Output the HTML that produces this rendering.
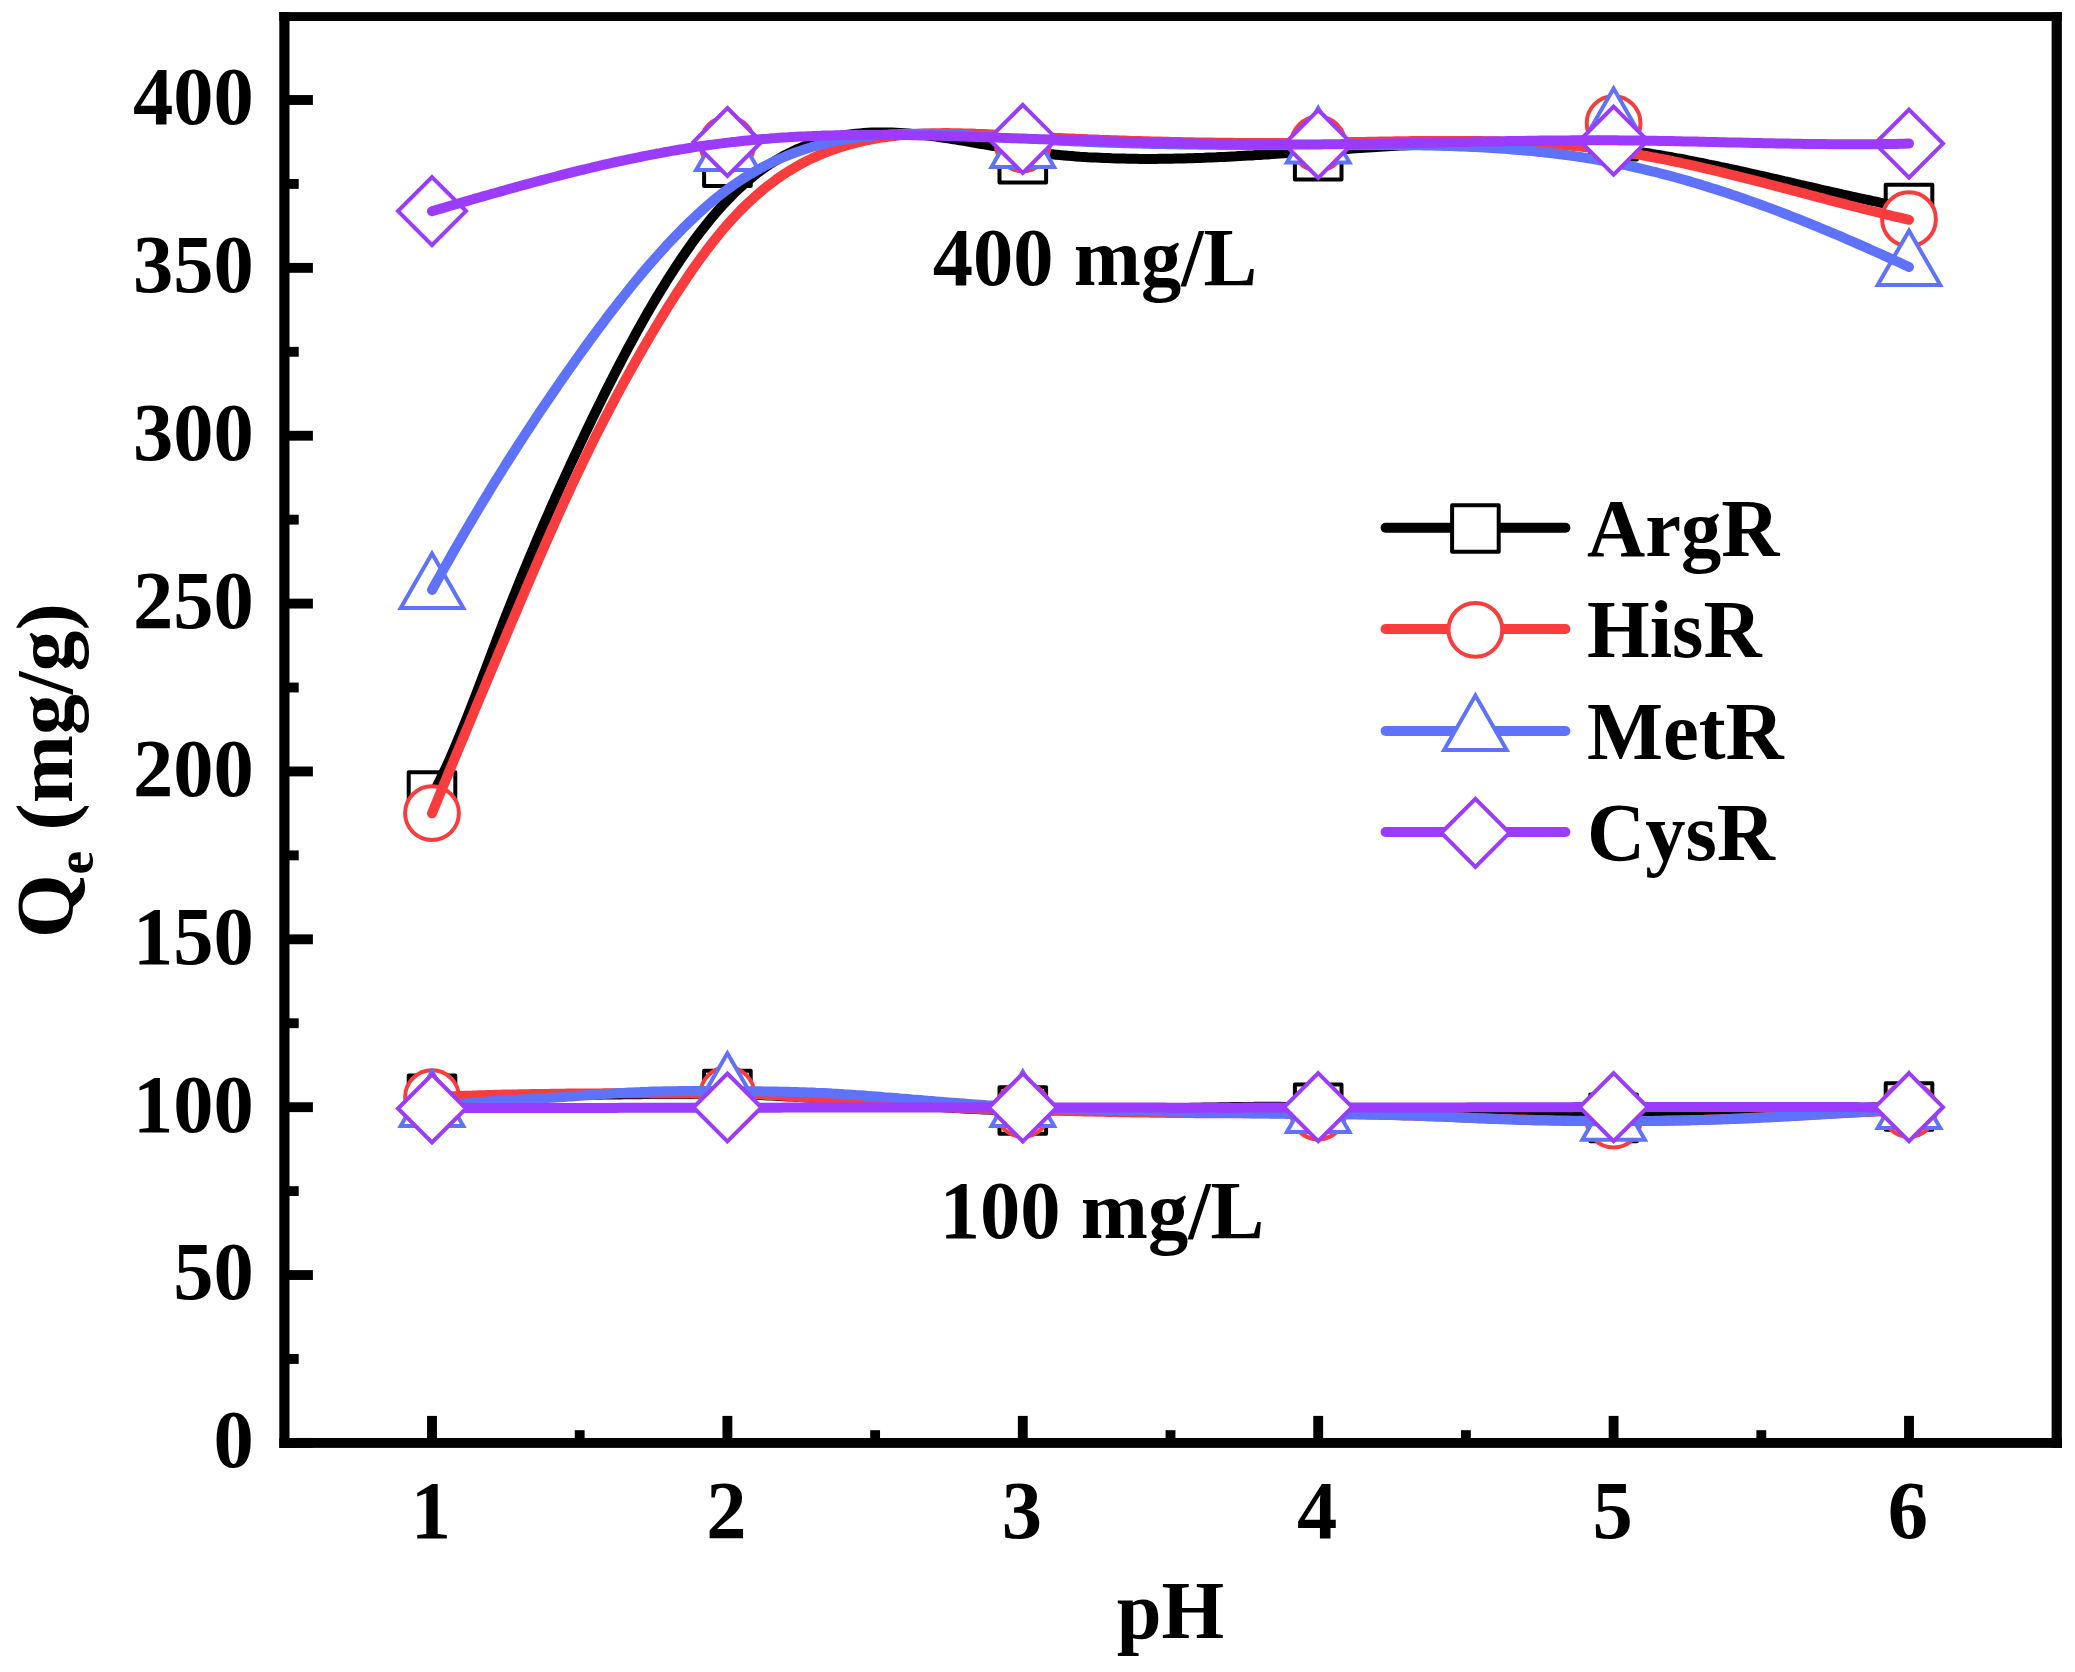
<!DOCTYPE html>
<html><head><meta charset="utf-8"><title>Qe vs pH</title>
<style>
html,body{margin:0;padding:0;background:#fff;}
svg{display:block;}
text{font-family:"Liberation Serif","Times New Roman",serif;font-weight:bold;fill:#000;}
</style></head><body>
<svg width="2075" height="1672" viewBox="0 0 2075 1672">
<rect x="0" y="0" width="2075" height="1672" fill="#fff"/>

<g id="g100">
<rect x="408.7" y="1075.5" width="46.6" height="46.6" fill="#fff" stroke="#000000" stroke-width="4.0" stroke-linejoin="round"/>
<rect x="704.1" y="1070.8" width="46.6" height="46.6" fill="#fff" stroke="#000000" stroke-width="4.0" stroke-linejoin="round"/>
<rect x="999.5" y="1087.2" width="46.6" height="46.6" fill="#fff" stroke="#000000" stroke-width="4.0" stroke-linejoin="round"/>
<rect x="1294.9" y="1084.5" width="46.6" height="46.6" fill="#fff" stroke="#000000" stroke-width="4.0" stroke-linejoin="round"/>
<rect x="1590.3" y="1094.6" width="46.6" height="46.6" fill="#fff" stroke="#000000" stroke-width="4.0" stroke-linejoin="round"/>
<rect x="1885.7" y="1083.2" width="46.6" height="46.6" fill="#fff" stroke="#000000" stroke-width="4.0" stroke-linejoin="round"/>
<path d="M432.0,1099.0 L436.0,1098.9 L440.0,1098.7 L444.0,1098.6 L448.0,1098.5 L452.0,1098.3 L456.0,1098.2 L460.0,1098.1 L464.0,1098.0 L468.0,1097.8 L472.0,1097.7 L476.0,1097.6 L480.0,1097.4 L484.0,1097.3 L488.0,1097.2 L492.0,1097.1 L496.0,1097.0 L500.0,1096.8 L504.0,1096.7 L508.0,1096.6 L512.0,1096.5 L516.0,1096.4 L520.0,1096.3 L524.0,1096.2 L528.0,1096.1 L532.0,1096.0 L536.0,1095.9 L540.0,1095.8 L544.0,1095.7 L548.0,1095.6 L552.0,1095.5 L556.0,1095.4 L560.0,1095.3 L564.0,1095.3 L568.0,1095.2 L572.0,1095.1 L576.0,1095.0 L580.0,1095.0 L584.0,1094.9 L588.0,1094.8 L592.0,1094.8 L596.0,1094.7 L600.0,1094.7 L604.0,1094.6 L608.0,1094.5 L612.0,1094.5 L616.0,1094.4 L620.0,1094.4 L624.0,1094.3 L628.0,1094.3 L632.0,1094.3 L636.0,1094.2 L640.0,1094.2 L644.0,1094.1 L648.0,1094.1 L652.0,1094.0 L656.0,1094.0 L660.0,1094.0 L664.0,1094.0 L668.0,1093.9 L672.0,1093.9 L676.0,1093.9 L680.0,1093.9 L684.0,1093.9 L688.0,1093.9 L692.0,1093.9 L696.0,1093.9 L700.0,1093.9 L704.0,1093.9 L708.0,1093.9 L712.0,1094.0 L716.0,1094.0 L720.0,1094.1 L724.0,1094.1 L728.0,1094.2 L732.0,1094.3 L736.0,1094.4 L740.0,1094.5 L744.0,1094.6 L748.0,1094.7 L752.0,1094.9 L756.0,1095.0 L760.0,1095.1 L764.0,1095.3 L768.0,1095.4 L772.0,1095.6 L776.0,1095.8 L780.0,1096.0 L784.0,1096.2 L788.0,1096.4 L792.0,1096.6 L796.0,1096.8 L800.0,1097.0 L804.0,1097.2 L808.0,1097.5 L812.0,1097.7 L816.0,1097.9 L820.0,1098.2 L824.0,1098.4 L828.0,1098.7 L832.0,1099.0 L836.0,1099.2 L840.0,1099.5 L844.0,1099.8 L848.0,1100.1 L852.0,1100.4 L856.0,1100.7 L860.0,1101.0 L864.0,1101.3 L868.0,1101.5 L872.0,1101.9 L876.0,1102.2 L880.0,1102.5 L884.0,1102.8 L888.0,1103.1 L892.0,1103.4 L896.0,1103.7 L900.0,1104.0 L904.0,1104.3 L908.0,1104.6 L912.0,1104.9 L916.0,1105.2 L920.0,1105.5 L924.0,1105.8 L928.0,1106.1 L932.0,1106.4 L936.0,1106.7 L940.0,1107.0 L944.0,1107.2 L948.0,1107.5 L952.0,1107.8 L956.0,1108.0 L960.0,1108.2 L964.0,1108.5 L968.0,1108.7 L972.0,1108.9 L976.0,1109.0 L980.0,1109.2 L984.0,1109.4 L988.0,1109.5 L992.0,1109.7 L996.0,1109.8 L1000.0,1109.9 L1004.0,1110.0 L1008.0,1110.1 L1012.0,1110.1 L1016.0,1110.2 L1020.0,1110.3 L1024.0,1110.3 L1028.0,1110.3 L1032.0,1110.4 L1036.0,1110.4 L1040.0,1110.4 L1044.0,1110.4 L1048.0,1110.4 L1052.0,1110.4 L1056.0,1110.3 L1060.0,1110.3 L1064.0,1110.3 L1068.0,1110.2 L1072.0,1110.2 L1076.0,1110.1 L1080.0,1110.1 L1084.0,1110.0 L1088.0,1109.9 L1092.0,1109.9 L1096.0,1109.8 L1100.0,1109.7 L1104.0,1109.7 L1108.0,1109.6 L1112.0,1109.5 L1116.0,1109.4 L1120.0,1109.3 L1124.0,1109.3 L1128.0,1109.2 L1132.0,1109.1 L1136.0,1109.0 L1140.0,1108.9 L1144.0,1108.8 L1148.0,1108.8 L1152.0,1108.7 L1156.0,1108.6 L1160.0,1108.5 L1164.0,1108.4 L1168.0,1108.3 L1172.0,1108.3 L1176.0,1108.2 L1180.0,1108.1 L1184.0,1108.0 L1188.0,1107.9 L1192.0,1107.8 L1196.0,1107.8 L1200.0,1107.7 L1204.0,1107.6 L1208.0,1107.5 L1212.0,1107.5 L1216.0,1107.4 L1220.0,1107.3 L1224.0,1107.3 L1228.0,1107.2 L1232.0,1107.1 L1236.0,1107.1 L1240.0,1107.0 L1244.0,1107.0 L1248.0,1106.9 L1252.0,1106.9 L1256.0,1106.8 L1260.0,1106.8 L1264.0,1106.8 L1268.0,1106.8 L1272.0,1106.8 L1276.0,1106.8 L1280.0,1106.8 L1284.0,1106.9 L1288.0,1106.9 L1292.0,1107.0 L1296.0,1107.0 L1300.0,1107.1 L1304.0,1107.2 L1308.0,1107.3 L1312.0,1107.4 L1316.0,1107.5 L1320.0,1107.6 L1324.0,1107.7 L1328.0,1107.8 L1332.0,1107.9 L1336.0,1108.0 L1340.0,1108.1 L1344.0,1108.2 L1348.0,1108.4 L1352.0,1108.5 L1356.0,1108.6 L1360.0,1108.8 L1364.0,1108.9 L1368.0,1109.0 L1372.0,1109.2 L1376.0,1109.3 L1380.0,1109.5 L1384.0,1109.6 L1388.0,1109.8 L1392.0,1109.9 L1396.0,1110.0 L1400.0,1110.2 L1404.0,1110.3 L1408.0,1110.5 L1412.0,1110.7 L1416.0,1110.8 L1420.0,1111.0 L1424.0,1111.1 L1428.0,1111.3 L1432.0,1111.4 L1436.0,1111.6 L1440.0,1111.7 L1444.0,1111.9 L1448.0,1112.0 L1452.0,1112.1 L1456.0,1112.3 L1460.0,1112.4 L1464.0,1112.6 L1468.0,1112.7 L1472.0,1112.9 L1476.0,1113.0 L1480.0,1113.1 L1484.0,1113.3 L1488.0,1113.4 L1492.0,1113.5 L1496.0,1113.7 L1500.0,1113.8 L1504.0,1113.9 L1508.0,1114.1 L1512.0,1114.2 L1516.0,1114.3 L1520.0,1114.4 L1524.0,1114.5 L1528.0,1114.6 L1532.0,1114.7 L1536.0,1114.9 L1540.0,1115.0 L1544.0,1115.0 L1548.0,1115.1 L1552.0,1115.2 L1556.0,1115.3 L1560.0,1115.4 L1564.0,1115.5 L1568.0,1115.6 L1572.0,1115.6 L1576.0,1115.7 L1580.0,1115.7 L1584.0,1115.8 L1588.0,1115.8 L1592.0,1115.9 L1596.0,1115.9 L1600.0,1115.9 L1604.0,1116.0 L1608.0,1116.0 L1612.0,1116.0 L1616.0,1116.0 L1620.0,1116.0 L1624.0,1116.0 L1628.0,1116.0 L1632.0,1116.0 L1636.0,1115.9 L1640.0,1115.9 L1644.0,1115.8 L1648.0,1115.8 L1652.0,1115.7 L1656.0,1115.7 L1660.0,1115.6 L1664.0,1115.5 L1668.0,1115.5 L1672.0,1115.4 L1676.0,1115.3 L1680.0,1115.2 L1684.0,1115.1 L1688.0,1115.0 L1692.0,1114.9 L1696.0,1114.7 L1700.0,1114.6 L1704.0,1114.5 L1708.0,1114.3 L1712.0,1114.2 L1716.0,1114.0 L1720.0,1113.9 L1724.0,1113.7 L1728.0,1113.5 L1732.0,1113.4 L1736.0,1113.2 L1740.0,1113.0 L1744.0,1112.9 L1748.0,1112.7 L1752.0,1112.5 L1756.0,1112.3 L1760.0,1112.1 L1764.0,1111.9 L1768.0,1111.7 L1772.0,1111.6 L1776.0,1111.4 L1780.0,1111.2 L1784.0,1111.0 L1788.0,1110.8 L1792.0,1110.6 L1796.0,1110.4 L1800.0,1110.3 L1804.0,1110.1 L1808.0,1109.9 L1812.0,1109.7 L1816.0,1109.6 L1820.0,1109.4 L1824.0,1109.3 L1828.0,1109.1 L1832.0,1109.0 L1836.0,1108.8 L1840.0,1108.7 L1844.0,1108.5 L1848.0,1108.4 L1852.0,1108.2 L1856.0,1108.1 L1860.0,1108.0 L1864.0,1107.9 L1868.0,1107.7 L1872.0,1107.6 L1876.0,1107.5 L1880.0,1107.4 L1884.0,1107.2 L1888.0,1107.1 L1892.0,1107.0 L1896.0,1106.9 L1900.0,1106.8 L1904.0,1106.6 L1908.0,1106.5 L1909.0,1106.5" fill="none" stroke="#000000" stroke-width="10.0" stroke-linecap="round" stroke-linejoin="round"/>
<circle cx="432.0" cy="1097.1" r="26.9" fill="#fff" stroke="#F93C3E" stroke-width="4.0"/>
<circle cx="727.4" cy="1094.1" r="26.9" fill="#fff" stroke="#F93C3E" stroke-width="4.0"/>
<circle cx="1022.8" cy="1109.9" r="26.9" fill="#fff" stroke="#F93C3E" stroke-width="4.0"/>
<circle cx="1318.2" cy="1112.5" r="26.9" fill="#fff" stroke="#F93C3E" stroke-width="4.0"/>
<circle cx="1613.6" cy="1120.6" r="26.9" fill="#fff" stroke="#F93C3E" stroke-width="4.0"/>
<circle cx="1909.0" cy="1109.9" r="26.9" fill="#fff" stroke="#F93C3E" stroke-width="4.0"/>
<path d="M432.0,1097.2 L436.0,1097.0 L440.0,1096.8 L444.0,1096.7 L448.0,1096.5 L452.0,1096.3 L456.0,1096.2 L460.0,1096.0 L464.0,1095.8 L468.0,1095.7 L472.0,1095.6 L476.0,1095.4 L480.0,1095.3 L484.0,1095.2 L488.0,1095.1 L492.0,1095.0 L496.0,1094.8 L500.0,1094.7 L504.0,1094.6 L508.0,1094.6 L512.0,1094.5 L516.0,1094.4 L520.0,1094.3 L524.0,1094.2 L528.0,1094.2 L532.0,1094.1 L536.0,1094.0 L540.0,1094.0 L544.0,1093.9 L548.0,1093.9 L552.0,1093.8 L556.0,1093.7 L560.0,1093.7 L564.0,1093.7 L568.0,1093.6 L572.0,1093.6 L576.0,1093.5 L580.0,1093.5 L584.0,1093.5 L588.0,1093.4 L592.0,1093.4 L596.0,1093.4 L600.0,1093.4 L604.0,1093.3 L608.0,1093.3 L612.0,1093.3 L616.0,1093.3 L620.0,1093.3 L624.0,1093.3 L628.0,1093.3 L632.0,1093.3 L636.0,1093.3 L640.0,1093.3 L644.0,1093.3 L648.0,1093.3 L652.0,1093.4 L656.0,1093.4 L660.0,1093.4 L664.0,1093.4 L668.0,1093.4 L672.0,1093.5 L676.0,1093.5 L680.0,1093.5 L684.0,1093.6 L688.0,1093.6 L692.0,1093.6 L696.0,1093.7 L700.0,1093.7 L704.0,1093.8 L708.0,1093.8 L712.0,1093.8 L716.0,1093.9 L720.0,1093.9 L724.0,1094.0 L728.0,1094.0 L732.0,1094.1 L736.0,1094.1 L740.0,1094.1 L744.0,1094.2 L748.0,1094.3 L752.0,1094.4 L756.0,1094.5 L760.0,1094.6 L764.0,1094.7 L768.0,1094.9 L772.0,1095.1 L776.0,1095.3 L780.0,1095.5 L784.0,1095.8 L788.0,1096.0 L792.0,1096.3 L796.0,1096.6 L800.0,1096.9 L804.0,1097.2 L808.0,1097.4 L812.0,1097.7 L816.0,1098.0 L820.0,1098.3 L824.0,1098.6 L828.0,1098.9 L832.0,1099.2 L836.0,1099.5 L840.0,1099.7 L844.0,1100.0 L848.0,1100.3 L852.0,1100.6 L856.0,1100.9 L860.0,1101.2 L864.0,1101.4 L868.0,1101.7 L872.0,1102.0 L876.0,1102.3 L880.0,1102.6 L884.0,1102.8 L888.0,1103.1 L892.0,1103.4 L896.0,1103.7 L900.0,1104.0 L904.0,1104.3 L908.0,1104.6 L912.0,1104.9 L916.0,1105.2 L920.0,1105.5 L924.0,1105.8 L928.0,1106.0 L932.0,1106.3 L936.0,1106.6 L940.0,1106.9 L944.0,1107.1 L948.0,1107.4 L952.0,1107.6 L956.0,1107.9 L960.0,1108.1 L964.0,1108.3 L968.0,1108.5 L972.0,1108.7 L976.0,1108.8 L980.0,1109.0 L984.0,1109.1 L988.0,1109.3 L992.0,1109.4 L996.0,1109.5 L1000.0,1109.6 L1004.0,1109.6 L1008.0,1109.7 L1012.0,1109.8 L1016.0,1109.9 L1020.0,1109.9 L1024.0,1110.0 L1028.0,1110.1 L1032.0,1110.2 L1036.0,1110.3 L1040.0,1110.3 L1044.0,1110.4 L1048.0,1110.5 L1052.0,1110.6 L1056.0,1110.7 L1060.0,1110.8 L1064.0,1110.9 L1068.0,1111.0 L1072.0,1111.1 L1076.0,1111.2 L1080.0,1111.3 L1084.0,1111.4 L1088.0,1111.5 L1092.0,1111.6 L1096.0,1111.7 L1100.0,1111.7 L1104.0,1111.8 L1108.0,1111.9 L1112.0,1112.0 L1116.0,1112.1 L1120.0,1112.2 L1124.0,1112.2 L1128.0,1112.3 L1132.0,1112.4 L1136.0,1112.4 L1140.0,1112.5 L1144.0,1112.6 L1148.0,1112.6 L1152.0,1112.7 L1156.0,1112.7 L1160.0,1112.8 L1164.0,1112.8 L1168.0,1112.9 L1172.0,1112.9 L1176.0,1113.0 L1180.0,1113.0 L1184.0,1113.1 L1188.0,1113.1 L1192.0,1113.1 L1196.0,1113.2 L1200.0,1113.2 L1204.0,1113.2 L1208.0,1113.2 L1212.0,1113.2 L1216.0,1113.3 L1220.0,1113.3 L1224.0,1113.3 L1228.0,1113.3 L1232.0,1113.3 L1236.0,1113.3 L1240.0,1113.3 L1244.0,1113.3 L1248.0,1113.3 L1252.0,1113.3 L1256.0,1113.3 L1260.0,1113.3 L1264.0,1113.3 L1268.0,1113.3 L1272.0,1113.3 L1276.0,1113.3 L1280.0,1113.3 L1284.0,1113.3 L1288.0,1113.3 L1292.0,1113.3 L1296.0,1113.4 L1300.0,1113.4 L1304.0,1113.4 L1308.0,1113.4 L1312.0,1113.4 L1316.0,1113.5 L1320.0,1113.5 L1324.0,1113.6 L1328.0,1113.6 L1332.0,1113.7 L1336.0,1113.7 L1340.0,1113.8 L1344.0,1113.9 L1348.0,1113.9 L1352.0,1114.0 L1356.0,1114.1 L1360.0,1114.2 L1364.0,1114.3 L1368.0,1114.3 L1372.0,1114.4 L1376.0,1114.5 L1380.0,1114.7 L1384.0,1114.8 L1388.0,1114.9 L1392.0,1115.0 L1396.0,1115.1 L1400.0,1115.2 L1404.0,1115.4 L1408.0,1115.5 L1412.0,1115.6 L1416.0,1115.8 L1420.0,1115.9 L1424.0,1116.1 L1428.0,1116.2 L1432.0,1116.3 L1436.0,1116.5 L1440.0,1116.6 L1444.0,1116.8 L1448.0,1116.9 L1452.0,1117.1 L1456.0,1117.3 L1460.0,1117.4 L1464.0,1117.6 L1468.0,1117.7 L1472.0,1117.9 L1476.0,1118.0 L1480.0,1118.2 L1484.0,1118.3 L1488.0,1118.5 L1492.0,1118.6 L1496.0,1118.7 L1500.0,1118.9 L1504.0,1119.0 L1508.0,1119.1 L1512.0,1119.3 L1516.0,1119.4 L1520.0,1119.5 L1524.0,1119.6 L1528.0,1119.7 L1532.0,1119.8 L1536.0,1119.9 L1540.0,1120.0 L1544.0,1120.1 L1548.0,1120.2 L1552.0,1120.3 L1556.0,1120.4 L1560.0,1120.5 L1564.0,1120.5 L1568.0,1120.6 L1572.0,1120.7 L1576.0,1120.7 L1580.0,1120.8 L1584.0,1120.8 L1588.0,1120.8 L1592.0,1120.9 L1596.0,1120.9 L1600.0,1120.9 L1604.0,1121.0 L1608.0,1121.0 L1612.0,1121.0 L1616.0,1121.0 L1620.0,1121.0 L1624.0,1121.0 L1628.0,1121.0 L1632.0,1121.0 L1636.0,1121.0 L1640.0,1121.0 L1644.0,1120.9 L1648.0,1120.9 L1652.0,1120.9 L1656.0,1120.8 L1660.0,1120.8 L1664.0,1120.7 L1668.0,1120.6 L1672.0,1120.6 L1676.0,1120.5 L1680.0,1120.4 L1684.0,1120.3 L1688.0,1120.2 L1692.0,1120.1 L1696.0,1120.0 L1700.0,1119.9 L1704.0,1119.8 L1708.0,1119.6 L1712.0,1119.5 L1716.0,1119.4 L1720.0,1119.2 L1724.0,1119.0 L1728.0,1118.9 L1732.0,1118.7 L1736.0,1118.5 L1740.0,1118.4 L1744.0,1118.2 L1748.0,1118.0 L1752.0,1117.8 L1756.0,1117.6 L1760.0,1117.4 L1764.0,1117.2 L1768.0,1117.0 L1772.0,1116.8 L1776.0,1116.6 L1780.0,1116.4 L1784.0,1116.2 L1788.0,1116.0 L1792.0,1115.8 L1796.0,1115.6 L1800.0,1115.3 L1804.0,1115.1 L1808.0,1114.9 L1812.0,1114.7 L1816.0,1114.5 L1820.0,1114.3 L1824.0,1114.1 L1828.0,1113.9 L1832.0,1113.7 L1836.0,1113.5 L1840.0,1113.3 L1844.0,1113.1 L1848.0,1112.9 L1852.0,1112.7 L1856.0,1112.5 L1860.0,1112.3 L1864.0,1112.1 L1868.0,1111.9 L1872.0,1111.7 L1876.0,1111.5 L1880.0,1111.4 L1884.0,1111.2 L1888.0,1111.0 L1892.0,1110.8 L1896.0,1110.6 L1900.0,1110.4 L1904.0,1110.2 L1908.0,1110.0 L1909.0,1110.0" fill="none" stroke="#F93C3E" stroke-width="10.0" stroke-linecap="round" stroke-linejoin="round"/>
<polygon points="432.0,1071.6 400.7,1125.9 463.3,1125.9" fill="#fff" stroke="#5F72FB" stroke-width="4.0"/>
<polygon points="727.4,1053.2 696.1,1107.5 758.7,1107.5" fill="#fff" stroke="#5F72FB" stroke-width="4.0"/>
<polygon points="1022.8,1071.6 991.5,1125.9 1054.1,1125.9" fill="#fff" stroke="#5F72FB" stroke-width="4.0"/>
<polygon points="1318.2,1077.7 1286.9,1132.0 1349.5,1132.0" fill="#fff" stroke="#5F72FB" stroke-width="4.0"/>
<polygon points="1613.6,1085.4 1582.3,1139.7 1644.9,1139.7" fill="#fff" stroke="#5F72FB" stroke-width="4.0"/>
<polygon points="1909.0,1073.7 1877.7,1128.0 1940.3,1128.0" fill="#fff" stroke="#5F72FB" stroke-width="4.0"/>
<path d="M432.0,1108.0 L436.0,1107.4 L440.0,1106.9 L444.0,1106.3 L448.0,1105.8 L452.0,1105.3 L456.0,1104.8 L460.0,1104.3 L464.0,1103.8 L468.0,1103.4 L472.0,1103.0 L476.0,1102.6 L480.0,1102.2 L484.0,1101.9 L488.0,1101.6 L492.0,1101.3 L496.0,1101.0 L500.0,1100.7 L504.0,1100.4 L508.0,1100.2 L512.0,1100.0 L516.0,1099.7 L520.0,1099.5 L524.0,1099.3 L528.0,1099.1 L532.0,1098.8 L536.0,1098.6 L540.0,1098.4 L544.0,1098.2 L548.0,1097.9 L552.0,1097.7 L556.0,1097.4 L560.0,1097.2 L564.0,1096.9 L568.0,1096.6 L572.0,1096.4 L576.0,1096.1 L580.0,1095.8 L584.0,1095.5 L588.0,1095.2 L592.0,1094.9 L596.0,1094.7 L600.0,1094.4 L604.0,1094.1 L608.0,1093.8 L612.0,1093.6 L616.0,1093.3 L620.0,1093.1 L624.0,1092.9 L628.0,1092.6 L632.0,1092.4 L636.0,1092.2 L640.0,1092.1 L644.0,1091.9 L648.0,1091.8 L652.0,1091.6 L656.0,1091.5 L660.0,1091.4 L664.0,1091.3 L668.0,1091.3 L672.0,1091.2 L676.0,1091.2 L680.0,1091.1 L684.0,1091.1 L688.0,1091.1 L692.0,1091.0 L696.0,1091.0 L700.0,1091.0 L704.0,1091.0 L708.0,1091.0 L712.0,1091.0 L716.0,1091.1 L720.0,1091.1 L724.0,1091.1 L728.0,1091.1 L732.0,1091.1 L736.0,1091.1 L740.0,1091.2 L744.0,1091.2 L748.0,1091.2 L752.0,1091.3 L756.0,1091.3 L760.0,1091.3 L764.0,1091.4 L768.0,1091.4 L772.0,1091.5 L776.0,1091.6 L780.0,1091.7 L784.0,1091.7 L788.0,1091.8 L792.0,1091.9 L796.0,1092.0 L800.0,1092.2 L804.0,1092.3 L808.0,1092.4 L812.0,1092.6 L816.0,1092.8 L820.0,1092.9 L824.0,1093.1 L828.0,1093.3 L832.0,1093.6 L836.0,1093.8 L840.0,1094.0 L844.0,1094.3 L848.0,1094.5 L852.0,1094.8 L856.0,1095.1 L860.0,1095.3 L864.0,1095.6 L868.0,1095.9 L872.0,1096.2 L876.0,1096.5 L880.0,1096.8 L884.0,1097.2 L888.0,1097.5 L892.0,1097.8 L896.0,1098.1 L900.0,1098.5 L904.0,1098.8 L908.0,1099.1 L912.0,1099.5 L916.0,1099.8 L920.0,1100.1 L924.0,1100.4 L928.0,1100.8 L932.0,1101.1 L936.0,1101.4 L940.0,1101.7 L944.0,1102.1 L948.0,1102.4 L952.0,1102.7 L956.0,1103.0 L960.0,1103.3 L964.0,1103.6 L968.0,1103.9 L972.0,1104.2 L976.0,1104.5 L980.0,1104.8 L984.0,1105.1 L988.0,1105.4 L992.0,1105.6 L996.0,1105.9 L1000.0,1106.2 L1004.0,1106.5 L1008.0,1106.7 L1012.0,1107.0 L1016.0,1107.2 L1020.0,1107.4 L1024.0,1107.7 L1028.0,1107.8 L1032.0,1108.0 L1036.0,1108.2 L1040.0,1108.4 L1044.0,1108.5 L1048.0,1108.6 L1052.0,1108.8 L1056.0,1108.9 L1060.0,1109.0 L1064.0,1109.1 L1068.0,1109.2 L1072.0,1109.3 L1076.0,1109.3 L1080.0,1109.4 L1084.0,1109.5 L1088.0,1109.6 L1092.0,1109.6 L1096.0,1109.7 L1100.0,1109.8 L1104.0,1109.8 L1108.0,1109.9 L1112.0,1110.0 L1116.0,1110.1 L1120.0,1110.2 L1124.0,1110.3 L1128.0,1110.3 L1132.0,1110.4 L1136.0,1110.5 L1140.0,1110.6 L1144.0,1110.7 L1148.0,1110.8 L1152.0,1110.9 L1156.0,1111.0 L1160.0,1111.2 L1164.0,1111.3 L1168.0,1111.4 L1172.0,1111.5 L1176.0,1111.6 L1180.0,1111.7 L1184.0,1111.8 L1188.0,1111.9 L1192.0,1112.0 L1196.0,1112.1 L1200.0,1112.2 L1204.0,1112.3 L1208.0,1112.4 L1212.0,1112.5 L1216.0,1112.6 L1220.0,1112.7 L1224.0,1112.8 L1228.0,1112.9 L1232.0,1113.0 L1236.0,1113.1 L1240.0,1113.1 L1244.0,1113.2 L1248.0,1113.3 L1252.0,1113.4 L1256.0,1113.4 L1260.0,1113.5 L1264.0,1113.6 L1268.0,1113.6 L1272.0,1113.7 L1276.0,1113.7 L1280.0,1113.8 L1284.0,1113.8 L1288.0,1113.9 L1292.0,1113.9 L1296.0,1114.0 L1300.0,1114.0 L1304.0,1114.1 L1308.0,1114.1 L1312.0,1114.1 L1316.0,1114.2 L1320.0,1114.2 L1324.0,1114.3 L1328.0,1114.3 L1332.0,1114.3 L1336.0,1114.4 L1340.0,1114.4 L1344.0,1114.4 L1348.0,1114.5 L1352.0,1114.5 L1356.0,1114.5 L1360.0,1114.6 L1364.0,1114.6 L1368.0,1114.7 L1372.0,1114.8 L1376.0,1114.8 L1380.0,1114.9 L1384.0,1114.9 L1388.0,1115.0 L1392.0,1115.1 L1396.0,1115.2 L1400.0,1115.3 L1404.0,1115.4 L1408.0,1115.5 L1412.0,1115.6 L1416.0,1115.7 L1420.0,1115.9 L1424.0,1116.0 L1428.0,1116.2 L1432.0,1116.3 L1436.0,1116.5 L1440.0,1116.6 L1444.0,1116.8 L1448.0,1117.0 L1452.0,1117.1 L1456.0,1117.3 L1460.0,1117.5 L1464.0,1117.7 L1468.0,1117.8 L1472.0,1118.0 L1476.0,1118.2 L1480.0,1118.4 L1484.0,1118.5 L1488.0,1118.7 L1492.0,1118.9 L1496.0,1119.0 L1500.0,1119.2 L1504.0,1119.3 L1508.0,1119.5 L1512.0,1119.6 L1516.0,1119.8 L1520.0,1119.9 L1524.0,1120.0 L1528.0,1120.1 L1532.0,1120.3 L1536.0,1120.4 L1540.0,1120.5 L1544.0,1120.5 L1548.0,1120.6 L1552.0,1120.7 L1556.0,1120.8 L1560.0,1120.8 L1564.0,1120.9 L1568.0,1121.0 L1572.0,1121.0 L1576.0,1121.0 L1580.0,1121.1 L1584.0,1121.1 L1588.0,1121.1 L1592.0,1121.2 L1596.0,1121.2 L1600.0,1121.2 L1604.0,1121.2 L1608.0,1121.2 L1612.0,1121.2 L1616.0,1121.2 L1620.0,1121.2 L1624.0,1121.2 L1628.0,1121.2 L1632.0,1121.1 L1636.0,1121.1 L1640.0,1121.1 L1644.0,1121.1 L1648.0,1121.0 L1652.0,1121.0 L1656.0,1120.9 L1660.0,1120.9 L1664.0,1120.8 L1668.0,1120.8 L1672.0,1120.7 L1676.0,1120.6 L1680.0,1120.6 L1684.0,1120.5 L1688.0,1120.4 L1692.0,1120.3 L1696.0,1120.2 L1700.0,1120.1 L1704.0,1120.0 L1708.0,1119.9 L1712.0,1119.7 L1716.0,1119.6 L1720.0,1119.5 L1724.0,1119.3 L1728.0,1119.2 L1732.0,1119.0 L1736.0,1118.9 L1740.0,1118.7 L1744.0,1118.5 L1748.0,1118.4 L1752.0,1118.2 L1756.0,1118.0 L1760.0,1117.8 L1764.0,1117.6 L1768.0,1117.4 L1772.0,1117.2 L1776.0,1117.0 L1780.0,1116.8 L1784.0,1116.6 L1788.0,1116.4 L1792.0,1116.1 L1796.0,1115.9 L1800.0,1115.7 L1804.0,1115.4 L1808.0,1115.2 L1812.0,1115.0 L1816.0,1114.7 L1820.0,1114.5 L1824.0,1114.2 L1828.0,1114.0 L1832.0,1113.7 L1836.0,1113.5 L1840.0,1113.2 L1844.0,1113.0 L1848.0,1112.7 L1852.0,1112.5 L1856.0,1112.3 L1860.0,1112.0 L1864.0,1111.8 L1868.0,1111.6 L1872.0,1111.4 L1876.0,1111.2 L1880.0,1111.0 L1884.0,1110.8 L1888.0,1110.7 L1892.0,1110.5 L1896.0,1110.3 L1900.0,1110.2 L1904.0,1110.0 L1908.0,1109.8 L1909.0,1109.8" fill="none" stroke="#5F72FB" stroke-width="10.0" stroke-linecap="round" stroke-linejoin="round"/>
<path d="M432.0,1108.2 L436.0,1108.2 L440.0,1108.2 L444.0,1108.2 L448.0,1108.2 L452.0,1108.2 L456.0,1108.2 L460.0,1108.1 L464.0,1108.1 L468.0,1108.1 L472.0,1108.1 L476.0,1108.1 L480.0,1108.1 L484.0,1108.1 L488.0,1108.1 L492.0,1108.1 L496.0,1108.1 L500.0,1108.1 L504.0,1108.1 L508.0,1108.1 L512.0,1108.0 L516.0,1108.0 L520.0,1108.0 L524.0,1108.0 L528.0,1108.0 L532.0,1108.0 L536.0,1108.0 L540.0,1108.0 L544.0,1108.0 L548.0,1108.0 L552.0,1108.0 L556.0,1108.0 L560.0,1108.0 L564.0,1107.9 L568.0,1107.9 L572.0,1107.9 L576.0,1107.9 L580.0,1107.9 L584.0,1107.9 L588.0,1107.9 L592.0,1107.9 L596.0,1107.9 L600.0,1107.9 L604.0,1107.9 L608.0,1107.9 L612.0,1107.9 L616.0,1107.9 L620.0,1107.8 L624.0,1107.8 L628.0,1107.8 L632.0,1107.8 L636.0,1107.8 L640.0,1107.8 L644.0,1107.8 L648.0,1107.8 L652.0,1107.8 L656.0,1107.8 L660.0,1107.8 L664.0,1107.8 L668.0,1107.8 L672.0,1107.8 L676.0,1107.8 L680.0,1107.8 L684.0,1107.8 L688.0,1107.7 L692.0,1107.7 L696.0,1107.7 L700.0,1107.7 L704.0,1107.7 L708.0,1107.7 L712.0,1107.7 L716.0,1107.7 L720.0,1107.7 L724.0,1107.7 L728.0,1107.7 L732.0,1107.7 L736.0,1107.7 L740.0,1107.7 L744.0,1107.7 L748.0,1107.7 L752.0,1107.7 L756.0,1107.7 L760.0,1107.7 L764.0,1107.7 L768.0,1107.7 L772.0,1107.7 L776.0,1107.7 L780.0,1107.7 L784.0,1107.6 L788.0,1107.6 L792.0,1107.6 L796.0,1107.6 L800.0,1107.6 L804.0,1107.6 L808.0,1107.6 L812.0,1107.6 L816.0,1107.6 L820.0,1107.6 L824.0,1107.6 L828.0,1107.6 L832.0,1107.6 L836.0,1107.6 L840.0,1107.6 L844.0,1107.6 L848.0,1107.6 L852.0,1107.6 L856.0,1107.6 L860.0,1107.6 L864.0,1107.6 L868.0,1107.6 L872.0,1107.6 L876.0,1107.6 L880.0,1107.6 L884.0,1107.6 L888.0,1107.6 L892.0,1107.6 L896.0,1107.6 L900.0,1107.6 L904.0,1107.6 L908.0,1107.6 L912.0,1107.6 L916.0,1107.6 L920.0,1107.6 L924.0,1107.6 L928.0,1107.6 L932.0,1107.6 L936.0,1107.6 L940.0,1107.6 L944.0,1107.6 L948.0,1107.6 L952.0,1107.6 L956.0,1107.6 L960.0,1107.6 L964.0,1107.6 L968.0,1107.6 L972.0,1107.6 L976.0,1107.6 L980.0,1107.6 L984.0,1107.6 L988.0,1107.6 L992.0,1107.6 L996.0,1107.6 L1000.0,1107.6 L1004.0,1107.6 L1008.0,1107.6 L1012.0,1107.6 L1016.0,1107.6 L1020.0,1107.6 L1024.0,1107.6 L1028.0,1107.6 L1032.0,1107.6 L1036.0,1107.6 L1040.0,1107.6 L1044.0,1107.6 L1048.0,1107.6 L1052.0,1107.6 L1056.0,1107.6 L1060.0,1107.6 L1064.0,1107.6 L1068.0,1107.6 L1072.0,1107.6 L1076.0,1107.6 L1080.0,1107.6 L1084.0,1107.6 L1088.0,1107.6 L1092.0,1107.6 L1096.0,1107.6 L1100.0,1107.6 L1104.0,1107.6 L1108.0,1107.6 L1112.0,1107.6 L1116.0,1107.6 L1120.0,1107.6 L1124.0,1107.6 L1128.0,1107.6 L1132.0,1107.6 L1136.0,1107.6 L1140.0,1107.6 L1144.0,1107.6 L1148.0,1107.6 L1152.0,1107.6 L1156.0,1107.6 L1160.0,1107.6 L1164.0,1107.6 L1168.0,1107.7 L1172.0,1107.7 L1176.0,1107.7 L1180.0,1107.7 L1184.0,1107.7 L1188.0,1107.7 L1192.0,1107.7 L1196.0,1107.7 L1200.0,1107.7 L1204.0,1107.7 L1208.0,1107.7 L1212.0,1107.7 L1216.0,1107.7 L1220.0,1107.7 L1224.0,1107.7 L1228.0,1107.7 L1232.0,1107.7 L1236.0,1107.7 L1240.0,1107.7 L1244.0,1107.6 L1248.0,1107.6 L1252.0,1107.6 L1256.0,1107.6 L1260.0,1107.6 L1264.0,1107.6 L1268.0,1107.6 L1272.0,1107.6 L1276.0,1107.6 L1280.0,1107.6 L1284.0,1107.6 L1288.0,1107.6 L1292.0,1107.6 L1296.0,1107.6 L1300.0,1107.6 L1304.0,1107.6 L1308.0,1107.6 L1312.0,1107.6 L1316.0,1107.6 L1320.0,1107.6 L1324.0,1107.6 L1328.0,1107.6 L1332.0,1107.6 L1336.0,1107.6 L1340.0,1107.6 L1344.0,1107.6 L1348.0,1107.6 L1352.0,1107.6 L1356.0,1107.6 L1360.0,1107.5 L1364.0,1107.5 L1368.0,1107.5 L1372.0,1107.5 L1376.0,1107.5 L1380.0,1107.5 L1384.0,1107.5 L1388.0,1107.5 L1392.0,1107.5 L1396.0,1107.5 L1400.0,1107.5 L1404.0,1107.5 L1408.0,1107.5 L1412.0,1107.5 L1416.0,1107.4 L1420.0,1107.4 L1424.0,1107.4 L1428.0,1107.4 L1432.0,1107.4 L1436.0,1107.4 L1440.0,1107.4 L1444.0,1107.4 L1448.0,1107.4 L1452.0,1107.4 L1456.0,1107.4 L1460.0,1107.4 L1464.0,1107.4 L1468.0,1107.3 L1472.0,1107.3 L1476.0,1107.3 L1480.0,1107.3 L1484.0,1107.3 L1488.0,1107.3 L1492.0,1107.3 L1496.0,1107.3 L1500.0,1107.3 L1504.0,1107.3 L1508.0,1107.3 L1512.0,1107.3 L1516.0,1107.2 L1520.0,1107.2 L1524.0,1107.2 L1528.0,1107.2 L1532.0,1107.2 L1536.0,1107.2 L1540.0,1107.2 L1544.0,1107.2 L1548.0,1107.2 L1552.0,1107.2 L1556.0,1107.2 L1560.0,1107.2 L1564.0,1107.2 L1568.0,1107.2 L1572.0,1107.2 L1576.0,1107.1 L1580.0,1107.1 L1584.0,1107.1 L1588.0,1107.1 L1592.0,1107.1 L1596.0,1107.1 L1600.0,1107.1 L1604.0,1107.1 L1608.0,1107.1 L1612.0,1107.1 L1616.0,1107.1 L1620.0,1107.1 L1624.0,1107.1 L1628.0,1107.1 L1632.0,1107.1 L1636.0,1107.1 L1640.0,1107.1 L1644.0,1107.1 L1648.0,1107.1 L1652.0,1107.1 L1656.0,1107.1 L1660.0,1107.1 L1664.0,1107.1 L1668.0,1107.1 L1672.0,1107.1 L1676.0,1107.1 L1680.0,1107.1 L1684.0,1107.1 L1688.0,1107.1 L1692.0,1107.1 L1696.0,1107.1 L1700.0,1107.1 L1704.0,1107.1 L1708.0,1107.1 L1712.0,1107.1 L1716.0,1107.1 L1720.0,1107.1 L1724.0,1107.1 L1728.0,1107.1 L1732.0,1107.1 L1736.0,1107.1 L1740.0,1107.1 L1744.0,1107.1 L1748.0,1107.1 L1752.0,1107.1 L1756.0,1107.1 L1760.0,1107.1 L1764.0,1107.1 L1768.0,1107.1 L1772.0,1107.1 L1776.0,1107.1 L1780.0,1107.1 L1784.0,1107.1 L1788.0,1107.1 L1792.0,1107.1 L1796.0,1107.1 L1800.0,1107.1 L1804.0,1107.1 L1808.0,1107.1 L1812.0,1107.1 L1816.0,1107.1 L1820.0,1107.1 L1824.0,1107.1 L1828.0,1107.1 L1832.0,1107.1 L1836.0,1107.1 L1840.0,1107.1 L1844.0,1107.1 L1848.0,1107.1 L1852.0,1107.1 L1856.0,1107.1 L1860.0,1107.2 L1864.0,1107.2 L1868.0,1107.2 L1872.0,1107.2 L1876.0,1107.2 L1880.0,1107.2 L1884.0,1107.2 L1888.0,1107.2 L1892.0,1107.2 L1896.0,1107.2 L1900.0,1107.2 L1904.0,1107.2 L1908.0,1107.2 L1909.0,1107.2" fill="none" stroke="#9B3BFD" stroke-width="10.0" stroke-linecap="round" stroke-linejoin="round"/>
<polygon points="432.0,1074.5 466.0,1108.5 432.0,1142.5 398.0,1108.5" fill="#fff" stroke="#9B3BFD" stroke-width="4.0"/>
<polygon points="727.4,1073.5 761.4,1107.5 727.4,1141.5 693.4,1107.5" fill="#fff" stroke="#9B3BFD" stroke-width="4.0"/>
<polygon points="1022.8,1073.5 1056.8,1107.5 1022.8,1141.5 988.8,1107.5" fill="#fff" stroke="#9B3BFD" stroke-width="4.0"/>
<polygon points="1318.2,1073.2 1352.2,1107.2 1318.2,1141.2 1284.2,1107.2" fill="#fff" stroke="#9B3BFD" stroke-width="4.0"/>
<polygon points="1613.6,1073.2 1647.6,1107.2 1613.6,1141.2 1579.6,1107.2" fill="#fff" stroke="#9B3BFD" stroke-width="4.0"/>
<polygon points="1909.0,1073.2 1943.0,1107.2 1909.0,1141.2 1875.0,1107.2" fill="#fff" stroke="#9B3BFD" stroke-width="4.0"/>
</g>
<g id="g400">
<rect x="408.7" y="772.3" width="46.6" height="46.6" fill="#fff" stroke="#000000" stroke-width="4.0" stroke-linejoin="round"/>
<rect x="704.1" y="139.5" width="46.6" height="46.6" fill="#fff" stroke="#000000" stroke-width="4.0" stroke-linejoin="round"/>
<rect x="999.5" y="135.8" width="46.6" height="46.6" fill="#fff" stroke="#000000" stroke-width="4.0" stroke-linejoin="round"/>
<rect x="1294.9" y="132.8" width="46.6" height="46.6" fill="#fff" stroke="#000000" stroke-width="4.0" stroke-linejoin="round"/>
<rect x="1590.3" y="113.0" width="46.6" height="46.6" fill="#fff" stroke="#000000" stroke-width="4.0" stroke-linejoin="round"/>
<rect x="1885.7" y="184.8" width="46.6" height="46.6" fill="#fff" stroke="#000000" stroke-width="4.0" stroke-linejoin="round"/>
<path d="M432.0,795.7 L436.0,788.1 L440.0,780.1 L444.0,771.7 L448.0,763.0 L452.0,753.9 L456.0,744.6 L460.0,734.9 L464.0,725.1 L468.0,715.0 L472.0,704.8 L476.0,694.5 L480.0,684.0 L484.0,673.5 L488.0,662.9 L492.0,652.4 L496.0,641.8 L500.0,631.3 L504.0,620.9 L508.0,610.7 L512.0,600.5 L516.0,590.5 L520.0,580.6 L524.0,570.8 L528.0,561.1 L532.0,551.6 L536.0,542.1 L540.0,532.8 L544.0,523.5 L548.0,514.4 L552.0,505.4 L556.0,496.4 L560.0,487.5 L564.0,478.7 L568.0,470.0 L572.0,461.4 L576.0,452.8 L580.0,444.3 L584.0,435.9 L588.0,427.5 L592.0,419.2 L596.0,411.0 L600.0,402.9 L604.0,394.8 L608.0,386.8 L612.0,378.9 L616.0,371.1 L620.0,363.4 L624.0,355.7 L628.0,348.2 L632.0,340.8 L636.0,333.4 L640.0,326.2 L644.0,319.1 L648.0,312.1 L652.0,305.2 L656.0,298.4 L660.0,291.8 L664.0,285.3 L668.0,278.9 L672.0,272.6 L676.0,266.5 L680.0,260.4 L684.0,254.6 L688.0,248.8 L692.0,243.2 L696.0,237.8 L700.0,232.4 L704.0,227.3 L708.0,222.3 L712.0,217.4 L716.0,212.7 L720.0,208.1 L724.0,203.7 L728.0,199.5 L732.0,195.4 L736.0,191.5 L740.0,187.7 L744.0,184.1 L748.0,180.6 L752.0,177.3 L756.0,174.1 L760.0,171.1 L764.0,168.2 L768.0,165.4 L772.0,162.8 L776.0,160.3 L780.0,158.0 L784.0,155.7 L788.0,153.6 L792.0,151.6 L796.0,149.7 L800.0,148.0 L804.0,146.3 L808.0,144.8 L812.0,143.3 L816.0,142.0 L820.0,140.8 L824.0,139.6 L828.0,138.6 L832.0,137.7 L836.0,136.8 L840.0,136.0 L844.0,135.3 L848.0,134.7 L852.0,134.2 L856.0,133.7 L860.0,133.4 L864.0,133.1 L868.0,132.8 L872.0,132.6 L876.0,132.5 L880.0,132.5 L884.0,132.5 L888.0,132.5 L892.0,132.6 L896.0,132.8 L900.0,133.0 L904.0,133.2 L908.0,133.5 L912.0,133.9 L916.0,134.2 L920.0,134.7 L924.0,135.1 L928.0,135.6 L932.0,136.1 L936.0,136.6 L940.0,137.2 L944.0,137.8 L948.0,138.4 L952.0,139.0 L956.0,139.6 L960.0,140.3 L964.0,140.9 L968.0,141.6 L972.0,142.3 L976.0,143.0 L980.0,143.7 L984.0,144.4 L988.0,145.1 L992.0,145.8 L996.0,146.4 L1000.0,147.1 L1004.0,147.8 L1008.0,148.4 L1012.0,149.1 L1016.0,149.7 L1020.0,150.3 L1024.0,150.9 L1028.0,151.4 L1032.0,151.9 L1036.0,152.5 L1040.0,152.9 L1044.0,153.4 L1048.0,153.9 L1052.0,154.3 L1056.0,154.7 L1060.0,155.1 L1064.0,155.4 L1068.0,155.8 L1072.0,156.1 L1076.0,156.4 L1080.0,156.7 L1084.0,156.9 L1088.0,157.2 L1092.0,157.4 L1096.0,157.6 L1100.0,157.8 L1104.0,158.0 L1108.0,158.1 L1112.0,158.3 L1116.0,158.4 L1120.0,158.5 L1124.0,158.6 L1128.0,158.7 L1132.0,158.8 L1136.0,158.8 L1140.0,158.9 L1144.0,158.9 L1148.0,158.9 L1152.0,158.9 L1156.0,158.9 L1160.0,158.8 L1164.0,158.8 L1168.0,158.7 L1172.0,158.7 L1176.0,158.6 L1180.0,158.5 L1184.0,158.4 L1188.0,158.3 L1192.0,158.2 L1196.0,158.0 L1200.0,157.9 L1204.0,157.8 L1208.0,157.6 L1212.0,157.4 L1216.0,157.3 L1220.0,157.1 L1224.0,156.9 L1228.0,156.7 L1232.0,156.5 L1236.0,156.3 L1240.0,156.0 L1244.0,155.8 L1248.0,155.6 L1252.0,155.4 L1256.0,155.1 L1260.0,154.9 L1264.0,154.6 L1268.0,154.4 L1272.0,154.1 L1276.0,153.8 L1280.0,153.6 L1284.0,153.3 L1288.0,153.0 L1292.0,152.8 L1296.0,152.5 L1300.0,152.2 L1304.0,151.9 L1308.0,151.7 L1312.0,151.4 L1316.0,151.1 L1320.0,150.8 L1324.0,150.5 L1328.0,150.3 L1332.0,150.0 L1336.0,149.7 L1340.0,149.4 L1344.0,149.2 L1348.0,148.9 L1352.0,148.6 L1356.0,148.3 L1360.0,148.1 L1364.0,147.8 L1368.0,147.5 L1372.0,147.3 L1376.0,147.0 L1380.0,146.8 L1384.0,146.5 L1388.0,146.3 L1392.0,146.1 L1396.0,145.8 L1400.0,145.6 L1404.0,145.4 L1408.0,145.2 L1412.0,145.0 L1416.0,144.8 L1420.0,144.6 L1424.0,144.4 L1428.0,144.2 L1432.0,144.0 L1436.0,143.9 L1440.0,143.7 L1444.0,143.6 L1448.0,143.4 L1452.0,143.3 L1456.0,143.2 L1460.0,143.1 L1464.0,142.9 L1468.0,142.9 L1472.0,142.8 L1476.0,142.7 L1480.0,142.6 L1484.0,142.6 L1488.0,142.6 L1492.0,142.5 L1496.0,142.5 L1500.0,142.5 L1504.0,142.5 L1508.0,142.5 L1512.0,142.6 L1516.0,142.6 L1520.0,142.7 L1524.0,142.8 L1528.0,142.8 L1532.0,142.9 L1536.0,143.1 L1540.0,143.2 L1544.0,143.3 L1548.0,143.5 L1552.0,143.7 L1556.0,143.9 L1560.0,144.1 L1564.0,144.3 L1568.0,144.6 L1572.0,144.8 L1576.0,145.1 L1580.0,145.4 L1584.0,145.7 L1588.0,146.1 L1592.0,146.4 L1596.0,146.8 L1600.0,147.2 L1604.0,147.6 L1608.0,148.0 L1612.0,148.4 L1616.0,148.9 L1620.0,149.4 L1624.0,149.9 L1628.0,150.4 L1632.0,151.0 L1636.0,151.5 L1640.0,152.1 L1644.0,152.7 L1648.0,153.3 L1652.0,154.0 L1656.0,154.6 L1660.0,155.3 L1664.0,156.0 L1668.0,156.6 L1672.0,157.3 L1676.0,158.1 L1680.0,158.8 L1684.0,159.5 L1688.0,160.3 L1692.0,161.1 L1696.0,161.9 L1700.0,162.6 L1704.0,163.4 L1708.0,164.3 L1712.0,165.1 L1716.0,165.9 L1720.0,166.8 L1724.0,167.6 L1728.0,168.5 L1732.0,169.3 L1736.0,170.2 L1740.0,171.1 L1744.0,172.0 L1748.0,172.9 L1752.0,173.8 L1756.0,174.7 L1760.0,175.6 L1764.0,176.5 L1768.0,177.4 L1772.0,178.3 L1776.0,179.2 L1780.0,180.1 L1784.0,181.1 L1788.0,182.0 L1792.0,182.9 L1796.0,183.8 L1800.0,184.8 L1804.0,185.7 L1808.0,186.6 L1812.0,187.5 L1816.0,188.4 L1820.0,189.4 L1824.0,190.3 L1828.0,191.2 L1832.0,192.1 L1836.0,193.0 L1840.0,193.9 L1844.0,194.8 L1848.0,195.7 L1852.0,196.6 L1856.0,197.5 L1860.0,198.3 L1864.0,199.2 L1868.0,200.0 L1872.0,200.9 L1876.0,201.7 L1880.0,202.6 L1884.0,203.4 L1888.0,204.2 L1892.0,205.0 L1896.0,205.8 L1900.0,206.6 L1904.0,207.3 L1908.0,208.1 L1908.5,208.2" fill="none" stroke="#000000" stroke-width="10.0" stroke-linecap="round" stroke-linejoin="round"/>
<circle cx="432.0" cy="813.1" r="26.9" fill="#fff" stroke="#F93C3E" stroke-width="4.0"/>
<circle cx="727.4" cy="144.0" r="26.9" fill="#fff" stroke="#F93C3E" stroke-width="4.0"/>
<circle cx="1022.8" cy="144.3" r="26.9" fill="#fff" stroke="#F93C3E" stroke-width="4.0"/>
<circle cx="1318.2" cy="143.6" r="26.9" fill="#fff" stroke="#F93C3E" stroke-width="4.0"/>
<circle cx="1613.6" cy="123.2" r="26.9" fill="#fff" stroke="#F93C3E" stroke-width="4.0"/>
<circle cx="1909.0" cy="219.2" r="26.9" fill="#fff" stroke="#F93C3E" stroke-width="4.0"/>
<path d="M432.0,813.3 L436.0,803.6 L440.0,793.9 L444.0,784.2 L448.0,774.5 L452.0,764.9 L456.0,755.2 L460.0,745.6 L464.0,736.0 L468.0,726.4 L472.0,716.8 L476.0,707.2 L480.0,697.6 L484.0,688.1 L488.0,678.5 L492.0,669.0 L496.0,659.5 L500.0,650.0 L504.0,640.5 L508.0,631.0 L512.0,621.6 L516.0,612.2 L520.0,602.8 L524.0,593.4 L528.0,584.1 L532.0,574.8 L536.0,565.5 L540.0,556.3 L544.0,547.2 L548.0,538.1 L552.0,529.1 L556.0,520.2 L560.0,511.3 L564.0,502.5 L568.0,493.8 L572.0,485.2 L576.0,476.7 L580.0,468.3 L584.0,460.0 L588.0,451.8 L592.0,443.6 L596.0,435.6 L600.0,427.7 L604.0,419.9 L608.0,412.2 L612.0,404.6 L616.0,397.0 L620.0,389.6 L624.0,382.2 L628.0,375.0 L632.0,367.8 L636.0,360.7 L640.0,353.7 L644.0,346.8 L648.0,339.9 L652.0,333.2 L656.0,326.5 L660.0,319.9 L664.0,313.4 L668.0,306.9 L672.0,300.6 L676.0,294.3 L680.0,288.2 L684.0,282.2 L688.0,276.2 L692.0,270.4 L696.0,264.7 L700.0,259.1 L704.0,253.7 L708.0,248.3 L712.0,243.2 L716.0,238.1 L720.0,233.2 L724.0,228.4 L728.0,223.8 L732.0,219.4 L736.0,215.1 L740.0,210.9 L744.0,206.9 L748.0,203.0 L752.0,199.3 L756.0,195.7 L760.0,192.3 L764.0,188.9 L768.0,185.7 L772.0,182.7 L776.0,179.7 L780.0,176.9 L784.0,174.2 L788.0,171.6 L792.0,169.2 L796.0,166.8 L800.0,164.5 L804.0,162.4 L808.0,160.4 L812.0,158.4 L816.0,156.6 L820.0,154.8 L824.0,153.1 L828.0,151.6 L832.0,150.1 L836.0,148.7 L840.0,147.3 L844.0,146.1 L848.0,144.9 L852.0,143.8 L856.0,142.8 L860.0,141.8 L864.0,140.9 L868.0,140.1 L872.0,139.3 L876.0,138.6 L880.0,137.9 L884.0,137.3 L888.0,136.7 L892.0,136.2 L896.0,135.7 L900.0,135.3 L904.0,134.9 L908.0,134.6 L912.0,134.3 L916.0,134.0 L920.0,133.8 L924.0,133.6 L928.0,133.4 L932.0,133.3 L936.0,133.2 L940.0,133.2 L944.0,133.1 L948.0,133.1 L952.0,133.2 L956.0,133.2 L960.0,133.3 L964.0,133.4 L968.0,133.5 L972.0,133.6 L976.0,133.8 L980.0,133.9 L984.0,134.1 L988.0,134.3 L992.0,134.5 L996.0,134.7 L1000.0,134.9 L1004.0,135.1 L1008.0,135.3 L1012.0,135.6 L1016.0,135.8 L1020.0,136.0 L1024.0,136.2 L1028.0,136.4 L1032.0,136.7 L1036.0,136.9 L1040.0,137.1 L1044.0,137.3 L1048.0,137.5 L1052.0,137.7 L1056.0,137.9 L1060.0,138.0 L1064.0,138.2 L1068.0,138.4 L1072.0,138.6 L1076.0,138.8 L1080.0,138.9 L1084.0,139.1 L1088.0,139.3 L1092.0,139.4 L1096.0,139.6 L1100.0,139.8 L1104.0,139.9 L1108.0,140.0 L1112.0,140.2 L1116.0,140.3 L1120.0,140.5 L1124.0,140.6 L1128.0,140.7 L1132.0,140.9 L1136.0,141.0 L1140.0,141.1 L1144.0,141.2 L1148.0,141.3 L1152.0,141.4 L1156.0,141.5 L1160.0,141.6 L1164.0,141.7 L1168.0,141.8 L1172.0,141.9 L1176.0,142.0 L1180.0,142.1 L1184.0,142.2 L1188.0,142.2 L1192.0,142.3 L1196.0,142.4 L1200.0,142.4 L1204.0,142.5 L1208.0,142.6 L1212.0,142.6 L1216.0,142.7 L1220.0,142.7 L1224.0,142.8 L1228.0,142.8 L1232.0,142.8 L1236.0,142.9 L1240.0,142.9 L1244.0,142.9 L1248.0,142.9 L1252.0,142.9 L1256.0,143.0 L1260.0,143.0 L1264.0,143.0 L1268.0,143.0 L1272.0,143.0 L1276.0,143.0 L1280.0,142.9 L1284.0,142.9 L1288.0,142.9 L1292.0,142.9 L1296.0,142.9 L1300.0,142.8 L1304.0,142.8 L1308.0,142.8 L1312.0,142.7 L1316.0,142.7 L1320.0,142.6 L1324.0,142.6 L1328.0,142.5 L1332.0,142.5 L1336.0,142.4 L1340.0,142.3 L1344.0,142.3 L1348.0,142.2 L1352.0,142.1 L1356.0,142.0 L1360.0,142.0 L1364.0,141.9 L1368.0,141.8 L1372.0,141.8 L1376.0,141.7 L1380.0,141.6 L1384.0,141.5 L1388.0,141.5 L1392.0,141.4 L1396.0,141.3 L1400.0,141.3 L1404.0,141.2 L1408.0,141.2 L1412.0,141.1 L1416.0,141.1 L1420.0,141.0 L1424.0,141.0 L1428.0,141.0 L1432.0,140.9 L1436.0,140.9 L1440.0,140.9 L1444.0,140.9 L1448.0,140.9 L1452.0,140.9 L1456.0,140.9 L1460.0,140.9 L1464.0,140.9 L1468.0,141.0 L1472.0,141.0 L1476.0,141.0 L1480.0,141.1 L1484.0,141.2 L1488.0,141.3 L1492.0,141.3 L1496.0,141.4 L1500.0,141.6 L1504.0,141.7 L1508.0,141.8 L1512.0,142.0 L1516.0,142.1 L1520.0,142.3 L1524.0,142.5 L1528.0,142.7 L1532.0,142.9 L1536.0,143.1 L1540.0,143.3 L1544.0,143.6 L1548.0,143.9 L1552.0,144.2 L1556.0,144.5 L1560.0,144.8 L1564.0,145.1 L1568.0,145.4 L1572.0,145.8 L1576.0,146.2 L1580.0,146.6 L1584.0,147.0 L1588.0,147.4 L1592.0,147.9 L1596.0,148.4 L1600.0,148.9 L1604.0,149.4 L1608.0,149.9 L1612.0,150.5 L1616.0,151.0 L1620.0,151.6 L1624.0,152.2 L1628.0,152.9 L1632.0,153.5 L1636.0,154.2 L1640.0,154.9 L1644.0,155.6 L1648.0,156.3 L1652.0,157.1 L1656.0,157.8 L1660.0,158.6 L1664.0,159.4 L1668.0,160.2 L1672.0,161.0 L1676.0,161.8 L1680.0,162.7 L1684.0,163.6 L1688.0,164.4 L1692.0,165.3 L1696.0,166.2 L1700.0,167.1 L1704.0,168.1 L1708.0,169.0 L1712.0,169.9 L1716.0,170.9 L1720.0,171.8 L1724.0,172.8 L1728.0,173.8 L1732.0,174.8 L1736.0,175.8 L1740.0,176.8 L1744.0,177.8 L1748.0,178.8 L1752.0,179.8 L1756.0,180.9 L1760.0,181.9 L1764.0,182.9 L1768.0,184.0 L1772.0,185.0 L1776.0,186.1 L1780.0,187.1 L1784.0,188.2 L1788.0,189.2 L1792.0,190.3 L1796.0,191.3 L1800.0,192.4 L1804.0,193.4 L1808.0,194.5 L1812.0,195.6 L1816.0,196.6 L1820.0,197.7 L1824.0,198.7 L1828.0,199.8 L1832.0,200.8 L1836.0,201.9 L1840.0,202.9 L1844.0,203.9 L1848.0,205.0 L1852.0,206.0 L1856.0,207.0 L1860.0,208.0 L1864.0,209.0 L1868.0,210.0 L1872.0,211.0 L1876.0,212.0 L1880.0,213.0 L1884.0,214.0 L1888.0,214.9 L1892.0,215.9 L1896.0,216.8 L1900.0,217.7 L1904.0,218.7 L1908.0,219.6 L1909.0,219.8" fill="none" stroke="#F93C3E" stroke-width="10.0" stroke-linecap="round" stroke-linejoin="round"/>
<polygon points="432.0,553.6 400.7,607.9 463.3,607.9" fill="#fff" stroke="#5F72FB" stroke-width="4.0"/>
<polygon points="727.4,115.8 696.1,170.1 758.7,170.1" fill="#fff" stroke="#5F72FB" stroke-width="4.0"/>
<polygon points="1022.8,112.8 991.5,167.1 1054.1,167.1" fill="#fff" stroke="#5F72FB" stroke-width="4.0"/>
<polygon points="1318.2,108.1 1286.9,162.4 1349.5,162.4" fill="#fff" stroke="#5F72FB" stroke-width="4.0"/>
<polygon points="1613.6,88.6 1582.3,142.9 1644.9,142.9" fill="#fff" stroke="#5F72FB" stroke-width="4.0"/>
<polygon points="1909.0,230.7 1877.7,285.0 1940.3,285.0" fill="#fff" stroke="#5F72FB" stroke-width="4.0"/>
<path d="M432.0,590.0 L436.0,582.8 L440.0,575.6 L444.0,568.4 L448.0,561.4 L452.0,554.3 L456.0,547.3 L460.0,540.4 L464.0,533.5 L468.0,526.7 L472.0,519.9 L476.0,513.2 L480.0,506.5 L484.0,499.9 L488.0,493.3 L492.0,486.7 L496.0,480.2 L500.0,473.8 L504.0,467.4 L508.0,461.0 L512.0,454.7 L516.0,448.5 L520.0,442.3 L524.0,436.1 L528.0,430.0 L532.0,423.9 L536.0,417.8 L540.0,411.8 L544.0,405.9 L548.0,400.0 L552.0,394.1 L556.0,388.2 L560.0,382.5 L564.0,376.7 L568.0,371.0 L572.0,365.3 L576.0,359.7 L580.0,354.1 L584.0,348.5 L588.0,343.0 L592.0,337.6 L596.0,332.1 L600.0,326.7 L604.0,321.4 L608.0,316.1 L612.0,310.9 L616.0,305.7 L620.0,300.6 L624.0,295.5 L628.0,290.5 L632.0,285.5 L636.0,280.6 L640.0,275.8 L644.0,271.0 L648.0,266.3 L652.0,261.7 L656.0,257.2 L660.0,252.7 L664.0,248.3 L668.0,243.9 L672.0,239.7 L676.0,235.5 L680.0,231.4 L684.0,227.3 L688.0,223.4 L692.0,219.6 L696.0,215.8 L700.0,212.1 L704.0,208.5 L708.0,205.0 L712.0,201.6 L716.0,198.3 L720.0,195.1 L724.0,192.0 L728.0,189.0 L732.0,186.1 L736.0,183.3 L740.0,180.6 L744.0,178.0 L748.0,175.5 L752.0,173.1 L756.0,170.8 L760.0,168.6 L764.0,166.4 L768.0,164.4 L772.0,162.4 L776.0,160.5 L780.0,158.7 L784.0,157.0 L788.0,155.3 L792.0,153.8 L796.0,152.3 L800.0,150.9 L804.0,149.5 L808.0,148.2 L812.0,147.0 L816.0,145.9 L820.0,144.8 L824.0,143.8 L828.0,142.8 L832.0,141.9 L836.0,141.1 L840.0,140.3 L844.0,139.6 L848.0,138.9 L852.0,138.2 L856.0,137.7 L860.0,137.1 L864.0,136.6 L868.0,136.2 L872.0,135.8 L876.0,135.4 L880.0,135.1 L884.0,134.8 L888.0,134.6 L892.0,134.3 L896.0,134.2 L900.0,134.0 L904.0,133.9 L908.0,133.8 L912.0,133.7 L916.0,133.7 L920.0,133.7 L924.0,133.7 L928.0,133.8 L932.0,133.8 L936.0,133.9 L940.0,134.0 L944.0,134.1 L948.0,134.3 L952.0,134.4 L956.0,134.6 L960.0,134.8 L964.0,135.0 L968.0,135.2 L972.0,135.4 L976.0,135.7 L980.0,135.9 L984.0,136.1 L988.0,136.4 L992.0,136.6 L996.0,136.9 L1000.0,137.2 L1004.0,137.4 L1008.0,137.7 L1012.0,138.0 L1016.0,138.2 L1020.0,138.5 L1024.0,138.7 L1028.0,139.0 L1032.0,139.2 L1036.0,139.4 L1040.0,139.7 L1044.0,139.9 L1048.0,140.1 L1052.0,140.3 L1056.0,140.5 L1060.0,140.7 L1064.0,140.9 L1068.0,141.1 L1072.0,141.3 L1076.0,141.4 L1080.0,141.6 L1084.0,141.8 L1088.0,141.9 L1092.0,142.1 L1096.0,142.2 L1100.0,142.4 L1104.0,142.5 L1108.0,142.7 L1112.0,142.8 L1116.0,142.9 L1120.0,143.0 L1124.0,143.2 L1128.0,143.3 L1132.0,143.4 L1136.0,143.5 L1140.0,143.6 L1144.0,143.7 L1148.0,143.8 L1152.0,143.9 L1156.0,144.0 L1160.0,144.0 L1164.0,144.1 L1168.0,144.2 L1172.0,144.3 L1176.0,144.3 L1180.0,144.4 L1184.0,144.5 L1188.0,144.5 L1192.0,144.6 L1196.0,144.6 L1200.0,144.7 L1204.0,144.7 L1208.0,144.8 L1212.0,144.8 L1216.0,144.8 L1220.0,144.9 L1224.0,144.9 L1228.0,144.9 L1232.0,145.0 L1236.0,145.0 L1240.0,145.0 L1244.0,145.0 L1248.0,145.1 L1252.0,145.1 L1256.0,145.1 L1260.0,145.1 L1264.0,145.1 L1268.0,145.1 L1272.0,145.1 L1276.0,145.1 L1280.0,145.1 L1284.0,145.1 L1288.0,145.1 L1292.0,145.1 L1296.0,145.1 L1300.0,145.1 L1304.0,145.1 L1308.0,145.1 L1312.0,145.1 L1316.0,145.1 L1320.0,145.1 L1324.0,145.0 L1328.0,145.0 L1332.0,145.0 L1336.0,145.0 L1340.0,145.0 L1344.0,145.0 L1348.0,145.0 L1352.0,145.0 L1356.0,145.0 L1360.0,145.0 L1364.0,145.0 L1368.0,145.0 L1372.0,145.0 L1376.0,145.0 L1380.0,145.0 L1384.0,145.0 L1388.0,145.0 L1392.0,145.0 L1396.0,145.1 L1400.0,145.1 L1404.0,145.1 L1408.0,145.2 L1412.0,145.2 L1416.0,145.3 L1420.0,145.3 L1424.0,145.4 L1428.0,145.5 L1432.0,145.6 L1436.0,145.7 L1440.0,145.8 L1444.0,145.9 L1448.0,146.0 L1452.0,146.1 L1456.0,146.3 L1460.0,146.4 L1464.0,146.6 L1468.0,146.7 L1472.0,146.9 L1476.0,147.1 L1480.0,147.3 L1484.0,147.5 L1488.0,147.7 L1492.0,148.0 L1496.0,148.2 L1500.0,148.5 L1504.0,148.8 L1508.0,149.1 L1512.0,149.4 L1516.0,149.7 L1520.0,150.0 L1524.0,150.4 L1528.0,150.7 L1532.0,151.1 L1536.0,151.5 L1540.0,151.9 L1544.0,152.4 L1548.0,152.8 L1552.0,153.3 L1556.0,153.7 L1560.0,154.2 L1564.0,154.8 L1568.0,155.3 L1572.0,155.8 L1576.0,156.4 L1580.0,157.0 L1584.0,157.6 L1588.0,158.3 L1592.0,158.9 L1596.0,159.6 L1600.0,160.3 L1604.0,161.0 L1608.0,161.7 L1612.0,162.5 L1616.0,163.3 L1620.0,164.1 L1624.0,164.9 L1628.0,165.7 L1632.0,166.6 L1636.0,167.5 L1640.0,168.4 L1644.0,169.3 L1648.0,170.3 L1652.0,171.3 L1656.0,172.2 L1660.0,173.3 L1664.0,174.3 L1668.0,175.3 L1672.0,176.4 L1676.0,177.5 L1680.0,178.6 L1684.0,179.7 L1688.0,180.9 L1692.0,182.1 L1696.0,183.2 L1700.0,184.4 L1704.0,185.7 L1708.0,186.9 L1712.0,188.2 L1716.0,189.4 L1720.0,190.7 L1724.0,192.0 L1728.0,193.3 L1732.0,194.7 L1736.0,196.0 L1740.0,197.4 L1744.0,198.8 L1748.0,200.2 L1752.0,201.6 L1756.0,203.0 L1760.0,204.5 L1764.0,206.0 L1768.0,207.4 L1772.0,208.9 L1776.0,210.4 L1780.0,211.9 L1784.0,213.5 L1788.0,215.0 L1792.0,216.6 L1796.0,218.1 L1800.0,219.7 L1804.0,221.3 L1808.0,222.9 L1812.0,224.6 L1816.0,226.2 L1820.0,227.8 L1824.0,229.5 L1828.0,231.2 L1832.0,232.8 L1836.0,234.5 L1840.0,236.2 L1844.0,237.9 L1848.0,239.7 L1852.0,241.4 L1856.0,243.1 L1860.0,244.9 L1864.0,246.6 L1868.0,248.4 L1872.0,250.2 L1876.0,252.0 L1880.0,253.8 L1884.0,255.6 L1888.0,257.4 L1892.0,259.2 L1896.0,261.0 L1900.0,262.8 L1904.0,264.7 L1908.0,266.5 L1909.0,267.0" fill="none" stroke="#5F72FB" stroke-width="10.0" stroke-linecap="round" stroke-linejoin="round"/>
<polygon points="432.0,177.1 466.0,211.1 432.0,245.1 398.0,211.1" fill="#fff" stroke="#9B3BFD" stroke-width="4.0"/>
<polygon points="727.4,108.0 761.4,142.0 727.4,176.0 693.4,142.0" fill="#fff" stroke="#9B3BFD" stroke-width="4.0"/>
<polygon points="1022.8,104.9 1056.8,138.9 1022.8,172.9 988.8,138.9" fill="#fff" stroke="#9B3BFD" stroke-width="4.0"/>
<polygon points="1318.2,110.0 1352.2,144.0 1318.2,178.0 1284.2,144.0" fill="#fff" stroke="#9B3BFD" stroke-width="4.0"/>
<polygon points="1613.6,106.6 1647.6,140.6 1613.6,174.6 1579.6,140.6" fill="#fff" stroke="#9B3BFD" stroke-width="4.0"/>
<polygon points="1909.0,109.6 1943.0,143.6 1909.0,177.6 1875.0,143.6" fill="#fff" stroke="#9B3BFD" stroke-width="4.0"/>
<path d="M432.0,211.2 L436.0,210.0 L440.0,208.9 L444.0,207.7 L448.0,206.5 L452.0,205.3 L456.0,204.2 L460.0,203.0 L464.0,201.9 L468.0,200.7 L472.0,199.5 L476.0,198.4 L480.0,197.3 L484.0,196.1 L488.0,195.0 L492.0,193.8 L496.0,192.7 L500.0,191.6 L504.0,190.5 L508.0,189.3 L512.0,188.2 L516.0,187.1 L520.0,186.0 L524.0,184.9 L528.0,183.9 L532.0,182.8 L536.0,181.7 L540.0,180.6 L544.0,179.6 L548.0,178.5 L552.0,177.5 L556.0,176.5 L560.0,175.4 L564.0,174.4 L568.0,173.4 L572.0,172.4 L576.0,171.4 L580.0,170.4 L584.0,169.5 L588.0,168.5 L592.0,167.5 L596.0,166.6 L600.0,165.7 L604.0,164.7 L608.0,163.8 L612.0,162.9 L616.0,162.0 L620.0,161.2 L624.0,160.3 L628.0,159.4 L632.0,158.6 L636.0,157.8 L640.0,157.0 L644.0,156.1 L648.0,155.4 L652.0,154.6 L656.0,153.8 L660.0,153.1 L664.0,152.3 L668.0,151.6 L672.0,150.9 L676.0,150.2 L680.0,149.5 L684.0,148.9 L688.0,148.2 L692.0,147.6 L696.0,146.9 L700.0,146.3 L704.0,145.8 L708.0,145.2 L712.0,144.6 L716.0,144.1 L720.0,143.6 L724.0,143.1 L728.0,142.6 L732.0,142.1 L736.0,141.7 L740.0,141.2 L744.0,140.8 L748.0,140.4 L752.0,140.0 L756.0,139.7 L760.0,139.3 L764.0,139.0 L768.0,138.7 L772.0,138.3 L776.0,138.1 L780.0,137.8 L784.0,137.5 L788.0,137.3 L792.0,137.0 L796.0,136.8 L800.0,136.6 L804.0,136.4 L808.0,136.2 L812.0,136.1 L816.0,135.9 L820.0,135.8 L824.0,135.6 L828.0,135.5 L832.0,135.4 L836.0,135.3 L840.0,135.2 L844.0,135.1 L848.0,135.1 L852.0,135.0 L856.0,135.0 L860.0,134.9 L864.0,134.9 L868.0,134.9 L872.0,134.9 L876.0,134.9 L880.0,134.9 L884.0,134.9 L888.0,134.9 L892.0,134.9 L896.0,135.0 L900.0,135.0 L904.0,135.1 L908.0,135.1 L912.0,135.2 L916.0,135.3 L920.0,135.4 L924.0,135.4 L928.0,135.5 L932.0,135.6 L936.0,135.7 L940.0,135.8 L944.0,135.9 L948.0,136.0 L952.0,136.2 L956.0,136.3 L960.0,136.4 L964.0,136.5 L968.0,136.7 L972.0,136.8 L976.0,136.9 L980.0,137.1 L984.0,137.2 L988.0,137.3 L992.0,137.5 L996.0,137.6 L1000.0,137.8 L1004.0,137.9 L1008.0,138.0 L1012.0,138.2 L1016.0,138.3 L1020.0,138.5 L1024.0,138.6 L1028.0,138.8 L1032.0,138.9 L1036.0,139.0 L1040.0,139.2 L1044.0,139.3 L1048.0,139.5 L1052.0,139.6 L1056.0,139.7 L1060.0,139.9 L1064.0,140.0 L1068.0,140.1 L1072.0,140.3 L1076.0,140.4 L1080.0,140.5 L1084.0,140.7 L1088.0,140.8 L1092.0,140.9 L1096.0,141.0 L1100.0,141.2 L1104.0,141.3 L1108.0,141.4 L1112.0,141.5 L1116.0,141.6 L1120.0,141.7 L1124.0,141.9 L1128.0,142.0 L1132.0,142.1 L1136.0,142.2 L1140.0,142.3 L1144.0,142.4 L1148.0,142.5 L1152.0,142.6 L1156.0,142.7 L1160.0,142.8 L1164.0,142.9 L1168.0,143.0 L1172.0,143.1 L1176.0,143.1 L1180.0,143.2 L1184.0,143.3 L1188.0,143.4 L1192.0,143.5 L1196.0,143.5 L1200.0,143.6 L1204.0,143.7 L1208.0,143.7 L1212.0,143.8 L1216.0,143.9 L1220.0,143.9 L1224.0,144.0 L1228.0,144.0 L1232.0,144.1 L1236.0,144.1 L1240.0,144.2 L1244.0,144.2 L1248.0,144.2 L1252.0,144.3 L1256.0,144.3 L1260.0,144.3 L1264.0,144.4 L1268.0,144.4 L1272.0,144.4 L1276.0,144.4 L1280.0,144.4 L1284.0,144.4 L1288.0,144.5 L1292.0,144.5 L1296.0,144.5 L1300.0,144.4 L1304.0,144.4 L1308.0,144.4 L1312.0,144.4 L1316.0,144.4 L1320.0,144.4 L1324.0,144.3 L1328.0,144.3 L1332.0,144.3 L1336.0,144.2 L1340.0,144.2 L1344.0,144.1 L1348.0,144.1 L1352.0,144.1 L1356.0,144.0 L1360.0,143.9 L1364.0,143.9 L1368.0,143.8 L1372.0,143.8 L1376.0,143.7 L1380.0,143.6 L1384.0,143.6 L1388.0,143.5 L1392.0,143.4 L1396.0,143.3 L1400.0,143.3 L1404.0,143.2 L1408.0,143.1 L1412.0,143.0 L1416.0,143.0 L1420.0,142.9 L1424.0,142.8 L1428.0,142.7 L1432.0,142.6 L1436.0,142.5 L1440.0,142.5 L1444.0,142.4 L1448.0,142.3 L1452.0,142.2 L1456.0,142.1 L1460.0,142.0 L1464.0,142.0 L1468.0,141.9 L1472.0,141.8 L1476.0,141.7 L1480.0,141.6 L1484.0,141.6 L1488.0,141.5 L1492.0,141.4 L1496.0,141.3 L1500.0,141.3 L1504.0,141.2 L1508.0,141.1 L1512.0,141.0 L1516.0,141.0 L1520.0,140.9 L1524.0,140.9 L1528.0,140.8 L1532.0,140.7 L1536.0,140.7 L1540.0,140.6 L1544.0,140.6 L1548.0,140.5 L1552.0,140.5 L1556.0,140.5 L1560.0,140.4 L1564.0,140.4 L1568.0,140.4 L1572.0,140.3 L1576.0,140.3 L1580.0,140.3 L1584.0,140.3 L1588.0,140.3 L1592.0,140.3 L1596.0,140.3 L1600.0,140.3 L1604.0,140.3 L1608.0,140.3 L1612.0,140.3 L1616.0,140.3 L1620.0,140.4 L1624.0,140.4 L1628.0,140.4 L1632.0,140.5 L1636.0,140.5 L1640.0,140.6 L1644.0,140.6 L1648.0,140.7 L1652.0,140.8 L1656.0,140.8 L1660.0,140.9 L1664.0,141.0 L1668.0,141.0 L1672.0,141.1 L1676.0,141.2 L1680.0,141.3 L1684.0,141.4 L1688.0,141.4 L1692.0,141.5 L1696.0,141.6 L1700.0,141.7 L1704.0,141.8 L1708.0,141.9 L1712.0,142.0 L1716.0,142.1 L1720.0,142.2 L1724.0,142.3 L1728.0,142.4 L1732.0,142.4 L1736.0,142.5 L1740.0,142.6 L1744.0,142.7 L1748.0,142.8 L1752.0,142.9 L1756.0,143.0 L1760.0,143.1 L1764.0,143.2 L1768.0,143.2 L1772.0,143.3 L1776.0,143.4 L1780.0,143.5 L1784.0,143.6 L1788.0,143.6 L1792.0,143.7 L1796.0,143.8 L1800.0,143.8 L1804.0,143.9 L1808.0,143.9 L1812.0,144.0 L1816.0,144.0 L1820.0,144.1 L1824.0,144.1 L1828.0,144.2 L1832.0,144.2 L1836.0,144.2 L1840.0,144.2 L1844.0,144.3 L1848.0,144.3 L1852.0,144.3 L1856.0,144.3 L1860.0,144.3 L1864.0,144.2 L1868.0,144.2 L1872.0,144.2 L1876.0,144.2 L1880.0,144.1 L1884.0,144.1 L1888.0,144.0 L1892.0,144.0 L1896.0,143.9 L1900.0,143.8 L1904.0,143.7 L1908.0,143.6 L1909.0,143.6" fill="none" stroke="#9B3BFD" stroke-width="10.0" stroke-linecap="round" stroke-linejoin="round"/>
</g>
<g id="axes" fill="#000">
<rect x="279.3" y="12.1" width="10.20" height="1435.80"/>
<rect x="2051.6" y="12.1" width="10.25" height="1435.80"/>
<rect x="279.3" y="12.1" width="1782.55" height="8.90"/>
<rect x="279.3" y="1438.0" width="1782.55" height="9.90"/>
<rect x="288.5" y="1437.97" width="24.40" height="9.86"/>
<rect x="288.5" y="1354.04" width="10.20" height="9.86"/>
<rect x="288.5" y="1270.11" width="24.40" height="9.86"/>
<rect x="288.5" y="1186.18" width="10.20" height="9.86"/>
<rect x="288.5" y="1102.25" width="24.40" height="9.86"/>
<rect x="288.5" y="1018.31" width="10.20" height="9.86"/>
<rect x="288.5" y="934.38" width="24.40" height="9.86"/>
<rect x="288.5" y="850.45" width="10.20" height="9.86"/>
<rect x="288.5" y="766.52" width="24.40" height="9.86"/>
<rect x="288.5" y="682.59" width="10.20" height="9.86"/>
<rect x="288.5" y="598.66" width="24.40" height="9.86"/>
<rect x="288.5" y="514.73" width="10.20" height="9.86"/>
<rect x="288.5" y="430.80" width="24.40" height="9.86"/>
<rect x="288.5" y="346.86" width="10.20" height="9.86"/>
<rect x="288.5" y="262.93" width="24.40" height="9.86"/>
<rect x="288.5" y="179.00" width="10.20" height="9.86"/>
<rect x="288.5" y="95.07" width="24.40" height="9.86"/>
<rect x="427.07" y="1415.9" width="9.86" height="23.10"/>
<rect x="574.77" y="1430.2" width="9.86" height="8.80"/>
<rect x="722.47" y="1415.9" width="9.86" height="23.10"/>
<rect x="870.17" y="1430.2" width="9.86" height="8.80"/>
<rect x="1017.87" y="1415.9" width="9.86" height="23.10"/>
<rect x="1165.57" y="1430.2" width="9.86" height="8.80"/>
<rect x="1313.27" y="1415.9" width="9.86" height="23.10"/>
<rect x="1460.97" y="1430.2" width="9.86" height="8.80"/>
<rect x="1608.67" y="1415.9" width="9.86" height="23.10"/>
<rect x="1756.37" y="1430.2" width="9.86" height="8.80"/>
<rect x="1904.07" y="1415.9" width="9.86" height="23.10"/>
</g>
<g id="labels" font-size="81.8">
<text transform="translate(253.8,1467.2) scale(0.985,1)" text-anchor="end">0</text>
<text transform="translate(253.8,1299.3) scale(0.985,1)" text-anchor="end">50</text>
<text transform="translate(253.8,1131.5) scale(0.985,1)" text-anchor="end">100</text>
<text transform="translate(253.8,963.6) scale(0.985,1)" text-anchor="end">150</text>
<text transform="translate(253.8,795.8) scale(0.985,1)" text-anchor="end">200</text>
<text transform="translate(253.8,627.9) scale(0.985,1)" text-anchor="end">250</text>
<text transform="translate(253.8,460.0) scale(0.985,1)" text-anchor="end">300</text>
<text transform="translate(253.8,292.2) scale(0.985,1)" text-anchor="end">350</text>
<text transform="translate(253.8,124.3) scale(0.985,1)" text-anchor="end">400</text>
<text transform="translate(431.0,1538.3) scale(0.985,1)" text-anchor="middle">1</text>
<text transform="translate(726.4,1538.3) scale(0.985,1)" text-anchor="middle">2</text>
<text transform="translate(1021.8,1538.3) scale(0.985,1)" text-anchor="middle">3</text>
<text transform="translate(1317.2,1538.3) scale(0.985,1)" text-anchor="middle">4</text>
<text transform="translate(1612.6,1538.3) scale(0.985,1)" text-anchor="middle">5</text>
<text transform="translate(1908.0,1538.3) scale(0.985,1)" text-anchor="middle">6</text>
<text transform="translate(1170.5,1638.0) scale(0.985,1)" text-anchor="middle">pH</text>
<text transform="translate(71.5,938) scale(0.985,1) rotate(-90)">Q<tspan font-size="53" dy="21.5">e</tspan><tspan dy="-21.5"> (mg/g)</tspan></text>
<text transform="translate(932.8,285.0) scale(0.985,1)" text-anchor="start">400 mg/L</text>
<text transform="translate(939.8,1237.9) scale(0.985,1)" text-anchor="start">100 mg/L</text>
</g>
<g id="legend">
<line x1="1385.6" y1="527.7" x2="1565.4" y2="527.7" stroke="#000000" stroke-width="10.0" stroke-linecap="round"/>
<rect x="1452.1" y="505.2" width="46.6" height="46.6" fill="#fff" stroke="#000000" stroke-width="4.0" stroke-linejoin="round"/>
<text transform="translate(1587,555.9) scale(0.985,1)" font-size="81.8">ArgR</text>
<line x1="1385.6" y1="629.0" x2="1565.4" y2="629.0" stroke="#F93C3E" stroke-width="10.0" stroke-linecap="round"/>
<circle cx="1475.4" cy="629.8" r="26.9" fill="#fff" stroke="#F93C3E" stroke-width="4.0"/>
<text transform="translate(1587,657.2) scale(0.985,1)" font-size="81.8">HisR</text>
<line x1="1385.6" y1="731.0" x2="1565.4" y2="731.0" stroke="#5F72FB" stroke-width="10.0" stroke-linecap="round"/>
<polygon points="1475.4,695.6 1444.1,749.9 1506.7,749.9" fill="#fff" stroke="#5F72FB" stroke-width="4.0"/>
<text transform="translate(1587,759.2) scale(0.985,1)" font-size="81.8">MetR</text>
<line x1="1385.6" y1="832.0" x2="1565.4" y2="832.0" stroke="#9B3BFD" stroke-width="10.0" stroke-linecap="round"/>
<polygon points="1475.4,798.8 1509.4,832.8 1475.4,866.8 1441.4,832.8" fill="#fff" stroke="#9B3BFD" stroke-width="4.0"/>
<text transform="translate(1587,860.2) scale(0.985,1)" font-size="81.8">CysR</text>
</g>
</svg></body></html>
